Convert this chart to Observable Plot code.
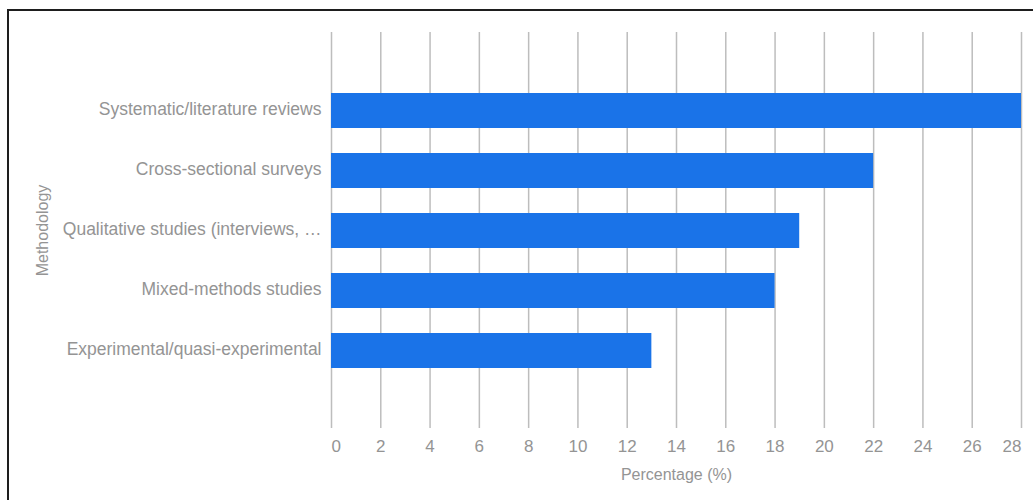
<!DOCTYPE html>
<html>
<head>
<meta charset="utf-8">
<script src="https://cdn.jsdelivr.net/npm/d3@7"></script>
<script src="https://cdn.jsdelivr.net/npm/@observablehq/plot@0.6"></script>
<style>
  html, body { margin: 0; padding: 0; background: #fff; overflow: hidden; }
  #wrap { position: relative; width: 1033px; height: 500px; }
  #border { position: absolute; left: 7px; top: 9px; width: 1100px; height: 600px;
            border-left: 2px solid #1e1e1e; border-top: 2px solid #1e1e1e; pointer-events: none; }
</style>
</head>
<body>
<div id="wrap"><div id="border"></div></div>
<script>
const categories = [
  "Systematic/literature reviews",
  "Cross-sectional surveys",
  "Qualitative studies (interviews, …",
  "Mixed-methods studies",
  "Experimental/quasi-experimental"
];
const values = [28, 22, 19, 18, 13];
const xTicks = [0, 2, 4, 6, 8, 10, 12, 14, 16, 18, 20, 22, 24, 26, 28];
const xLabel = "Percentage (%)";
const yLabel = "Methodology";

const data = categories.map((c, i) => ({category: c, value: values[i]}));
const textColor = "#949494";
const font = "Liberation Sans, Arial, sans-serif";
const midTicks = xTicks.slice(1, -1);

const chart = Plot.plot({
  width: 1033,
  height: 500,
  marginLeft: 331,
  marginRight: 12,
  marginTop: 32,
  marginBottom: 72,
  style: {fontFamily: font, background: "transparent"},
  x: {domain: [0, 28], axis: null},
  y: {domain: categories, paddingInner: 0.4167, paddingOuter: 1.008, axis: null},
  marks: [
    Plot.ruleX(xTicks, {x: d => d, stroke: "#bdbdbd", strokeWidth: 1.5}),
    Plot.barX(data, {x: "value", y: "category", fill: "#1a73e8"}),
    Plot.text(data, {y: "category", text: "category", frameAnchor: "left", dx: -10, dy: -2,
      textAnchor: "end", fill: textColor, fontSize: 17.5}),
    Plot.text(midTicks, {x: d => d, text: d => String(d), frameAnchor: "bottom", dy: 23,
      fill: textColor, fontSize: 17}),
    Plot.text([xTicks[0]], {x: d => d, text: d => String(d), frameAnchor: "bottom", dy: 23,
      textAnchor: "start", fill: textColor, fontSize: 17}),
    Plot.text([xTicks[xTicks.length - 1]], {x: d => d, text: d => String(d), frameAnchor: "bottom", dy: 23,
      textAnchor: "end", fill: textColor, fontSize: 17}),
    Plot.text([xLabel], {text: d => d, frameAnchor: "bottom", dy: 51, fill: textColor, fontSize: 16}),
    Plot.text([yLabel], {text: d => d, frameAnchor: "middle", dx: 42 - 676, rotate: -90,
      fill: textColor, fontSize: 16})
  ]
});
chart.style.position = "absolute";
chart.style.left = "0px";
chart.style.top = "0px";
document.getElementById("wrap").prepend(chart);
</script>
</body>
</html>
